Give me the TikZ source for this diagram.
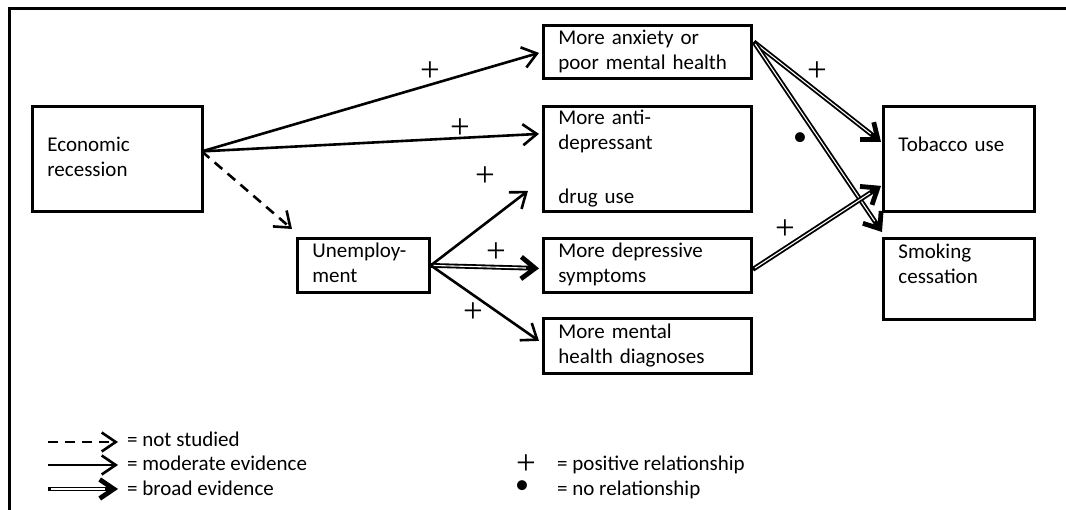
\documentclass[tikz,border=0pt]{standalone}
\usepackage{fontspec}
\setmainfont{Carlito}
\newfontfamily\signfont{Liberation Serif}
\usetikzlibrary{arrows.meta,calc}

\begin{document}
\begin{tikzpicture}[x=1pt,y=-1pt,
  box/.style={draw, line width=2.8pt, rectangle, anchor=north west, align=left,
    inner xsep=15pt, inner ysep=0pt, font=\fontsize{21}{25}\selectfont},
  mod/.style={line width=2.6pt, -{Straight Barb[length=14pt,width=21pt]}},
  notst/.style={mod, dash pattern=on 10pt off 7pt},
  broad/.style={line width=4.8pt, -{Straight Barb[length=14pt,width=22pt]},
    postaction={draw=white, line width=1.1pt, -, shorten >=13pt, shorten <=2.5pt}},
  sign/.style={font=\signfont\fontsize{35}{35}\selectfont, inner sep=0pt},
  dotsign/.style={font=\fontsize{28}{28}\selectfont, inner sep=0pt},
  lbl/.style={font=\fontsize{21}{25}\selectfont, inner sep=0pt, anchor=base west}]

\useasboundingbox (0,0) rectangle (1066,510);

% frame
\draw[line width=3pt] (9,510) -- (9,9) -- (1066,9);

% boxes
\node[box, minimum width=170pt, minimum height=105pt, text width=140pt] (econ) at (31,105)
  {\strut Economic\\\strut recession};
\node[box, minimum width=208pt, minimum height=53pt, text width=178pt] (anx) at (542,24)
  {\strut More anxiety or\\\strut poor mental health};
\node[box, minimum width=208pt, minimum height=105pt, text width=178pt] (antid) at (542,105)
  {\strut More anti-\\\strut depressant\\[29pt]\strut drug use};
\node[box, minimum width=132pt, minimum height=54pt, text width=102pt] (unemp) at (296,237)
  {\strut Unemploy-\\\strut ment};
\node[box, minimum width=208pt, minimum height=54pt, text width=178pt] (depr) at (542,237)
  {\strut More depressive\\\strut symptoms};
\node[box, minimum width=208pt, minimum height=55pt, text width=178pt] (ment) at (542,317)
  {\strut More mental\\\strut health diagnoses};
\node[box, minimum width=151pt, minimum height=105pt, text width=121pt] (tob) at (882,105)
  {\strut Tobacco use\\\strut};
\node[box, minimum width=151pt, minimum height=81pt, text width=121pt] (smok) at (882,237)
  {\strut Smoking\\\strut cessation\\\strut};

% connector ports
\coordinate (econ-out) at ($(econ.east)+(-2,-7.5)$);
\coordinate (anx-in) at ($(anx.west)+(-3,1)$);
\coordinate (antid-in) at ($(antid.west)+(-3,-25)$);
\coordinate (antid-in2) at ($(antid.south west)+(-14,-22)$);
\coordinate (unemp-in) at ($(unemp.north west)+(-4,-8)$);
\coordinate (depr-in) at ($(depr.west)+(-3,3)$);
\coordinate (ment-in) at ($(ment.west)+(-3,-5)$);
\coordinate (anx-out) at ($(anx.east)+(1,-10)$);
\coordinate (depr-out) at ($(depr.east)+(0,4)$);
\coordinate (tob-in1) at ($(tob.west)+(-1,-17)$);
\coordinate (tob-in2) at ($(tob.west)+(-1,27)$);
\coordinate (smok-in) at ($(smok.north west)+(0,-5)$);

% connectors
\draw[mod] (econ-out) -- (anx-in);
\draw[mod] (econ-out) -- (antid-in);
\draw[notst] (econ-out) -- (unemp-in);
\draw[mod] (unemp.east) -- (antid-in2);
\draw[broad] (unemp.east) -- (depr-in);
\draw[mod] (unemp.east) -- (ment-in);
\draw[broad] (anx-out) -- (tob-in1);
\draw[broad] (anx-out) -- (smok-in);
\draw[broad] (depr-out) -- (tob-in2);

% relationship signs
\node[sign] (s1) at (430,72) {+};
\node[sign] (s2) at (460,129) {+};
\node[sign] (s3) at (485,177) {+};
\node[sign] (s4) at (496,253) {+};
\node[sign] (s5) at (473,313) {+};
\node[sign] (s6) at (817,72) {+};
\node[sign] (s7) at (785,230) {+};
\node[dotsign] (d1) at (800,139) {•};

% legend
\coordinate (la1) at (48,442);  \coordinate (lb1) at (118,442);
\coordinate (la2) at (48,465);  \coordinate (lb2) at (118,465);
\coordinate (la3) at (48,489);  \coordinate (lb3) at (118,489);
\draw[notst, -{Straight Barb[length=14pt,width=19pt]}] (la1) -- (lb1);
\draw[mod, -{Straight Barb[length=14pt,width=19pt]}] (la2) -- (lb2);
\draw[broad, -{Straight Barb[length=14pt,width=19pt]}] (la3) -- (lb3);
\node[lbl] (t1) at (127,447) {= not studied};
\node[lbl] (t2) at (127,471) {= moderate evidence};
\node[lbl] (t3) at (127,495) {= broad evidence};

\node[sign] (lp) at (526,465) {+};
\node[dotsign] (ld) at (522,487) {•};
\node[lbl] (t4) at (557,471) {= positive relationship};
\node[lbl] (t5) at (557,496) {= no relationship};
\end{tikzpicture}
\end{document}
